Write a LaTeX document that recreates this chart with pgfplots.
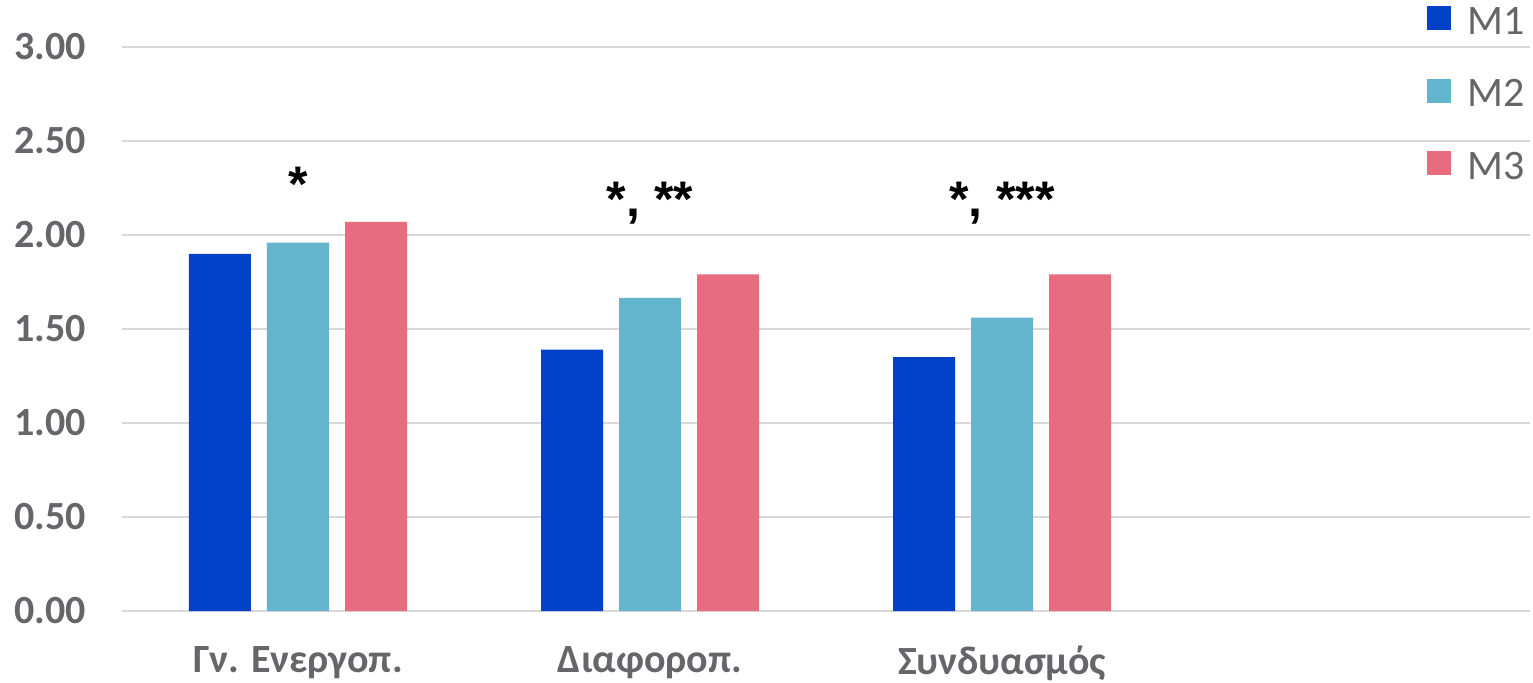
\documentclass[border=0pt]{standalone}
\usepackage{pgfplots}
\pgfplotsset{compat=1.18}
\usepackage{fontspec}
\setmainfont{Carlito}
\newfontfamily\starfont{Liberation Sans}
\definecolor{mone}{RGB}{0,65,200}
\definecolor{mtwo}{RGB}{98,181,205}
\definecolor{mthree}{RGB}{232,108,127}
\definecolor{txtgray}{RGB}{102,102,106}
\definecolor{gridgray}{RGB}{217,217,217}
\begin{document}
\begin{tikzpicture}
\begin{axis}[
    at={(0,0)}, anchor=south west,
    scale only axis,
    width=704pt, height=282pt,
    ybar=8pt, bar width=31pt,
    xmin=-0.5, xmax=3.5,
    ymin=0, ymax=3,
    xtick={0,1,2},
    xticklabels={Γν. Ενεργοπ., Διαφοροπ., Συνδυασμός},
    ytick={0,0.5,1,1.5,2,2.5,3},
    yticklabel style={/pgf/number format/fixed, /pgf/number format/fixed zerofill, /pgf/number format/precision=2},
    /pgf/number format/assume math mode=true,
    ticklabel style={font=\fontsize{20}{24}\selectfont\bfseries, text=txtgray},
    xticklabel style={yshift=-14pt},
    yticklabel style={xshift=-14.5pt},
    major tick length=0pt,
    axis line style={draw=none},
    ymajorgrids, grid style={gridgray, line width=1pt},
    clip=false,
    legend style={draw=none, fill=none, at={(axis description cs:1.0036,1.085)}, anchor=north east,
        font=\fontsize{21}{24}\selectfont, text=txtgray, row sep=17pt,
        legend cell align=left,
        /tikz/every odd column/.append style={column sep=6pt}},
    legend image code/.code={\fill[#1] (0pt,-4pt) rectangle (12pt,8pt);},
]
\addplot[fill=mone, draw=none] coordinates {(0,1.90) (1,1.39) (2,1.35)};
\addplot[fill=mtwo, draw=none] coordinates {(0,1.96) (1,1.665) (2,1.56)};
\addplot[fill=mthree, draw=none] coordinates {(0,2.07) (1,1.79) (2,1.79)};
\legend{M1, M2, M3}
\node[anchor=base, font=\starfont\fontsize{25}{28}\selectfont\bfseries] at (axis cs:0,2.18) {*};
\node[anchor=base, font=\starfont\fontsize{25}{28}\selectfont\bfseries] at (axis cs:1,2.10) {*, **};
\node[anchor=base, font=\starfont\fontsize{25}{28}\selectfont\bfseries] at (axis cs:2,2.10) {*, ***};
\end{axis}
\pgfresetboundingbox
\path[use as bounding box] (-61pt,-35.5pt) rectangle (705.5pt,305.5pt);
\end{tikzpicture}
\end{document}
